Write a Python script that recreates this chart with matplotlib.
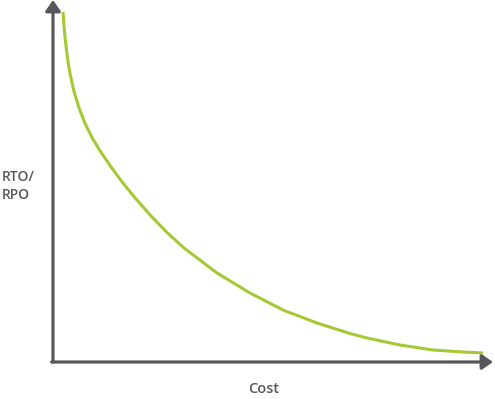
import matplotlib

matplotlib.use("Agg")
import matplotlib.pyplot as plt

# curve (cost vs RTO/RPO, arbitrary units)
cost = [10, 11, 12.3, 14.3, 16.9, 20.6, 25.7, 31.8, 39.3, 46.5, 58.1, 69.9, 83, 99, 114.5, 131,
        164, 197, 230, 264, 297, 314, 347, 380, 410, 430]
rto = [350, 336, 322, 305, 289, 272, 255, 239, 224, 212, 195, 179, 163, 145, 129, 114,
       89, 69, 52, 39, 28.5, 24, 17, 12, 10, 9]

AXIS_COLOR = "#57575a"
CURVE_COLOR = "#a5c934"
TEXT_COLOR = "#58585a"

fig = plt.figure(figsize=(4.95, 3.99), dpi=100)
ax = fig.add_axes([53 / 495, 37 / 399, 440 / 495, 362 / 399])
ax.set_xlim(0, 440)
ax.set_ylim(0, 362)
ax.axis("off")

ax.plot(cost, rto, color=CURVE_COLOR, lw=2.2, solid_capstyle="butt", solid_joinstyle="round")

arrow = dict(arrowstyle="-|>,head_length=0.65,head_width=0.45", color=AXIS_COLOR,
             lw=2.3, mutation_scale=10, shrinkA=0, shrinkB=0)
ax.annotate("", xy=(0, 1), xytext=(0, 0), xycoords="axes fraction", arrowprops=arrow)
ax.annotate("", xy=(1, 0), xytext=(-0.003, 0), xycoords="axes fraction", arrowprops=arrow)

fig.text(2 / 495, 1 - 186 / 399, "RTO/\nRPO", ha="left", va="center", fontsize=10,
         family="Open Sans", fontweight="semibold", color=TEXT_COLOR, linespacing=1.35)
fig.text(264 / 495, 1 - 389 / 399, "Cost", ha="center", va="center", fontsize=10.5,
         family="Open Sans", fontweight="semibold", color=TEXT_COLOR)

fig.savefig("out.png", dpi=100)
plt.close(fig)
